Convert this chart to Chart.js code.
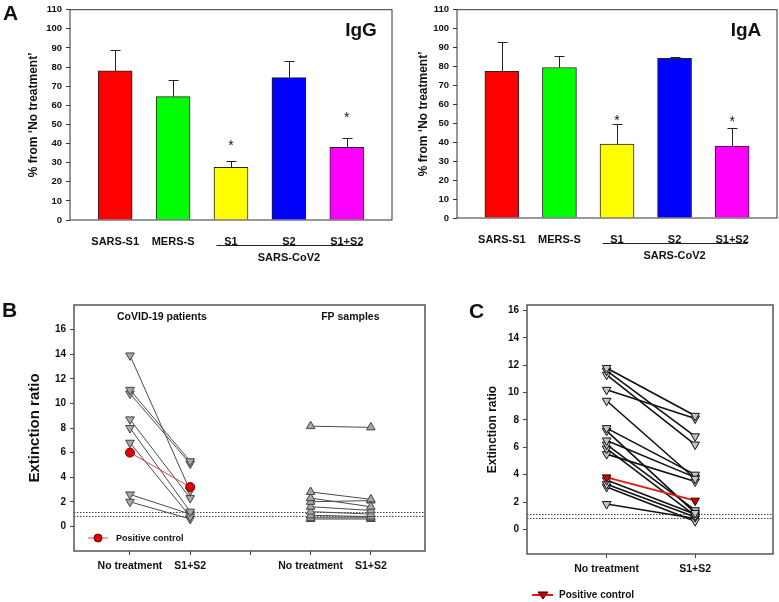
<!DOCTYPE html>
<html>
<head>
<meta charset="utf-8">
<script src="https://cdn.jsdelivr.net/npm/chart.js@4.4.1/dist/chart.umd.min.js"></script>
<style>
  body { margin: 0; background: #fff; width: 779px; height: 602px; position: relative; overflow: hidden; font-family: Arial, "Liberation Sans", sans-serif; }
  .p { position: absolute; }
  .lbl { position: absolute; font: bold 21px Arial, "Liberation Sans", sans-serif; color: #111; }
</style>
</head>
<body>
<div class="p" style="left:0;top:0"><canvas id="igg" width="395" height="275"></canvas></div>
<div class="p" style="left:395px;top:0"><canvas id="iga" width="384" height="275"></canvas></div>
<div class="p" style="left:0;top:295px"><canvas id="chartB" width="440" height="307"></canvas></div>
<div class="p" style="left:440px;top:295px"><canvas id="chartC" width="339" height="307"></canvas></div>
<div class="lbl" style="left:3px;top:1px">A</div>
<div class="lbl" style="left:2px;top:298px">B</div>
<div class="lbl" style="left:469px;top:299px">C</div>

<script>
// panel A
const antigens = ["SARS-S1", "MERS-S", "S1", "S2", "S1+S2"];
const barColors = ["#ff0000", "#00ff00", "#ffff00", "#0000ff", "#ff00ff"];
const iggMean = [78, 64.5, 27.5, 74.5, 38];
const iggErr = [89, 73, 31, 83, 43];
const iggStars = [null, null, 40, null, 55];
const igaMean = [77.5, 79.5, 39, 84.3, 38];
const igaErr = [93, 85.5, 49.5, 84.8, 47.5];
const igaStars = [null, null, 52.5, null, 52];
const pctTicks = [0, 10, 20, 30, 40, 50, 60, 70, 80, 90, 100, 110];

// panel B
const treatLabelsB = ["No treatment", "S1+S2", "", "No treatment", "S1+S2"];
const covidNoTreat = [13.9, 11.1, 10.8, 8.7, 8.0, 6.8, 2.6, 2.0];
const covidS1S2 = [2.9, 5.3, 5.1, 2.3, 1.2, 0.8, 1.0, 0.6];
const posCtrlB = [6.0, 3.2];
const fpNoTreat = [8.15, 2.8, 2.3, 2.0, 1.6, 1.2, 0.9, 0.7, 0.6];
const fpS1S2 = [8.05, 2.2, 1.6, 2.1, 1.3, 1.0, 0.8, 0.7, 0.6];
const cutoffsB = [1.2, 0.85];

// panel C
const treatLabelsC = ["No treatment", "S1+S2"];
const cNoTreat = [11.8, 11.6, 11.3, 10.2, 9.4, 7.4, 7.2, 6.5, 6.2, 5.9, 5.5, 3.6, 3.3, 3.1, 1.85];
const cS1S2 = [8.3, 6.8, 6.2, 8.1, 3.7, 4.0, 1.2, 3.8, 1.4, 1.0, 3.5, 1.1, 0.9, 0.6, 0.8];
const posCtrlC = [3.8, 2.1];
const cutoffsC = [1.1, 0.85];
const ratioTicks = [0, 2, 4, 6, 8, 10, 12, 14, 16];

const FONT = 'Arial, "Liberation Sans", sans-serif';
Chart.defaults.font.family = FONT;
Chart.defaults.color = "#111";

function frame(chart, color, width) {
  const a = chart.chartArea, ctx = chart.ctx;
  ctx.save();
  ctx.strokeStyle = color;
  ctx.lineWidth = width;
  ctx.strokeRect(a.left, a.top, a.right - a.left, a.bottom - a.top);
  ctx.restore();
}

function barChart(id, mean, err, stars, title, axisW, axisH, pad, titlePad) {
  const extras = {
    id: "extras",
    afterDatasetsDraw(chart) {
      const ctx = chart.ctx, xs = chart.scales.x, ys = chart.scales.y;
      ctx.save();
      ctx.strokeStyle = "#222";
      ctx.lineWidth = 1;
      mean.forEach((m, i) => {
        const x = Math.round(xs.getPixelForValue(i)) + 0.5;
        const y0 = ys.getPixelForValue(m), y1 = Math.round(ys.getPixelForValue(err[i])) + 0.5;
        ctx.beginPath();
        ctx.moveTo(x, y0); ctx.lineTo(x, y1);
        ctx.moveTo(x - 5, y1); ctx.lineTo(x + 5, y1);
        ctx.stroke();
      });
      ctx.fillStyle = "#111";
      ctx.font = "14px " + FONT;
      ctx.textAlign = "center";
      ctx.textBaseline = "middle";
      stars.forEach((s, i) => {
        if (s !== null) ctx.fillText("*", xs.getPixelForValue(i), ys.getPixelForValue(s) + 3);
      });
      // SARS-CoV2 bracket
      const yb = chart.chartArea.bottom + 25.5;
      ctx.beginPath();
      ctx.moveTo(xs.getPixelForValue(1.75), yb);
      ctx.lineTo(xs.getPixelForValue(4.27), yb);
      ctx.stroke();
      ctx.font = "bold 11px " + FONT;
      ctx.fillText("SARS-CoV2", xs.getPixelForValue(3), yb + 12);
      ctx.font = "bold 19px " + FONT;
      ctx.fillText(title, chart.chartArea.right - 31, chart.chartArea.top + 21);
      ctx.restore();
      frame(chart, "#333", 1);
    }
  };
  return new Chart(document.getElementById(id), {
    type: "bar",
    data: {
      datasets: [{
        data: mean.map((v, i) => ({ x: i, y: v })),
        backgroundColor: barColors,
        borderColor: "#222",
        borderWidth: 1,
        barThickness: 34
      }]
    },
    options: {
      responsive: false,
      animation: false,
      layout: { padding: pad },
      plugins: { legend: { display: false }, tooltip: { enabled: false } },
      scales: {
        x: {
          type: "linear",
          offset: false,
          min: -0.78,
          max: 4.78,
          afterBuildTicks: s => { s.ticks = antigens.map((_, i) => ({ value: i })); },
          afterFit: s => { s.height = axisH; },
          grid: { display: false, offset: false },
          border: { display: false },
          ticks: {
            callback: v => antigens[v],
            font: { weight: "bold", size: 11 },
            padding: 7,
            maxRotation: 0
          }
        },
        y: {
          min: 0,
          max: 110,
          afterBuildTicks: s => { s.ticks = pctTicks.map(v => ({ value: v })); },
          afterFit: s => { s.width = axisW; },
          grid: { drawOnChartArea: false, drawTicks: true, tickLength: 4, color: "#333" },
          border: { display: false },
          ticks: { font: { weight: "bold", size: 9.5 }, padding: 4 },
          title: {
            display: true,
            text: "% from \u2018No treatment\u2019",
            font: { weight: "bold", size: 12 },
            padding: { top: titlePad, bottom: 0 }
          }
        }
      }
    },
    plugins: [extras]
  });
}

barChart("igg", iggMean, iggErr, iggStars, "IgG", 70, 55, { top: 9, right: 3, left: 0, bottom: 0 }, 26);
barChart("iga", igaMean, igaErr, igaStars, "IgA", 62, 57, { top: 9, right: 2, left: 0, bottom: 0 }, 21);

function pair(a, b, x0, line, fill, border, style, rotation, radius, lw) {
  return {
    data: [{ x: x0, y: a }, { x: x0 + 1, y: b }],
    borderColor: line,
    borderWidth: lw,
    pointStyle: style,
    pointRotation: rotation,
    pointRadius: radius,
    pointBackgroundColor: fill,
    pointBorderColor: border,
    pointBorderWidth: 1
  };
}

function cutoffPlugin(cuts) {
  return {
    id: "cutoffs",
    beforeDatasetsDraw(chart) {
      const ctx = chart.ctx, a = chart.chartArea, ys = chart.scales.y;
      ctx.save();
      ctx.strokeStyle = "#444";
      ctx.lineWidth = 1;
      ctx.setLineDash([1.5, 1.5]);
      cuts.forEach(c => {
        const y = Math.round(ys.getPixelForValue(c)) + 0.5;
        ctx.beginPath(); ctx.moveTo(a.left, y); ctx.lineTo(a.right, y); ctx.stroke();
      });
      ctx.restore();
    }
  };
}

function lineOptions(xmin, xmax, labels, ymin, ymax, axisW, axisH, pad, titleSize, titlePad) {
  return {
    responsive: false,
    animation: false,
    layout: { padding: pad },
    plugins: { legend: { display: false }, tooltip: { enabled: false } },
    scales: {
      x: {
        type: "linear",
        min: xmin,
        max: xmax,
        afterBuildTicks: s => { s.ticks = labels.map((_, i) => ({ value: i })); },
        afterFit: s => { s.height = axisH; },
        grid: { drawOnChartArea: false, drawTicks: true, tickLength: 4, color: "#444" },
        border: { display: false },
        ticks: { callback: v => labels[v], font: { weight: "bold", size: 10.5 }, padding: 5, maxRotation: 0 }
      },
      y: {
        min: ymin,
        max: ymax,
        afterBuildTicks: s => { s.ticks = ratioTicks.map(v => ({ value: v })); },
        afterFit: s => { s.width = axisW; },
        grid: { drawOnChartArea: false, drawTicks: true, tickLength: 4, color: "#444" },
        border: { display: false },
        ticks: { font: { weight: "bold", size: 10 }, padding: 4 },
        title: {
          display: true,
          text: "Extinction ratio",
          font: { weight: "bold", size: titleSize },
          padding: { top: titlePad, bottom: 0 }
        }
      }
    }
  };
}

// panel B
const setsB = [pair(posCtrlB[0], posCtrlB[1], 0, "#e04848", "#e00000", "#700", "circle", 0, 4.5, 1)];
covidNoTreat.forEach((v, i) => setsB.push(pair(v, covidS1S2[i], 0, "#4a4a4a", "#a8a8a8", "#444", "triangle", 180, 5, 1)));
fpNoTreat.forEach((v, i) => setsB.push(pair(v, fpS1S2[i], 3, "#4a4a4a", "#a8a8a8", "#444", "triangle", 0, 5, 1)));

new Chart(document.getElementById("chartB"), {
  type: "line",
  data: { datasets: setsB },
  options: lineOptions(-0.93, 4.9, treatLabelsB, -2, 18, 74, 51, { top: 8, right: 15, left: 0, bottom: 0 }, 15, 26),
  plugins: [cutoffPlugin(cutoffsB), {
    id: "textB",
    afterDatasetsDraw(chart) {
      const ctx = chart.ctx, xs = chart.scales.x, a = chart.chartArea;
      ctx.save();
      ctx.fillStyle = "#111";
      ctx.font = "bold 10.5px " + FONT;
      ctx.textAlign = "center";
      ctx.textBaseline = "middle";
      ctx.fillText("CoVID-19 patients", xs.getPixelForValue(0.53), a.top + 12);
      ctx.fillText("FP samples", xs.getPixelForValue(3.66), a.top + 12);
      // legend
      const ly = a.bottom - 13;
      ctx.strokeStyle = "#e04848";
      ctx.lineWidth = 1;
      ctx.beginPath(); ctx.moveTo(a.left + 14, ly); ctx.lineTo(a.left + 34, ly); ctx.stroke();
      ctx.fillStyle = "#e00000";
      ctx.strokeStyle = "#700";
      ctx.beginPath(); ctx.arc(a.left + 24, ly, 4, 0, Math.PI * 2); ctx.fill(); ctx.stroke();
      ctx.fillStyle = "#111";
      ctx.textAlign = "left";
      ctx.font = "bold 9px " + FONT;
      ctx.fillText("Positive control", a.left + 42, ly + 1);
      ctx.restore();
      frame(chart, "#555", 1.5);
    }
  }]
});

// panel C
const setsC = [pair(posCtrlC[0], posCtrlC[1], 0, "#e01818", "#c80000", "#300", "triangle", 180, 5, 2)];
cNoTreat.forEach((v, i) => setsC.push(pair(v, cS1S2[i], 0, "#111", "#c4c4c4", "#111", "triangle", 180, 5, 1.6)));

new Chart(document.getElementById("chartC"), {
  type: "line",
  data: { datasets: setsC },
  options: lineOptions(-0.9, 1.88, treatLabelsC, -1.8, 16.4, 87, 48, { top: 9, right: 5, left: 0, bottom: 0 }, 12, 45),
  plugins: [cutoffPlugin(cutoffsC), {
    id: "textC",
    afterDatasetsDraw(chart) {
      const ctx = chart.ctx, a = chart.chartArea;
      ctx.save();
      const ly = 300;
      ctx.strokeStyle = "#e01818";
      ctx.lineWidth = 2;
      ctx.beginPath(); ctx.moveTo(92, ly); ctx.lineTo(113, ly); ctx.stroke();
      ctx.fillStyle = "#c80000";
      ctx.strokeStyle = "#300";
      ctx.lineWidth = 1;
      ctx.beginPath(); ctx.moveTo(98, ly - 3); ctx.lineTo(108, ly - 3); ctx.lineTo(103, ly + 4); ctx.closePath(); ctx.fill(); ctx.stroke();
      ctx.fillStyle = "#111";
      ctx.font = "bold 10px " + FONT;
      ctx.textAlign = "left";
      ctx.textBaseline = "middle";
      ctx.fillText("Positive control", 119, ly);
      ctx.restore();
      frame(chart, "#555", 1.5);
    }
  }]
});
</script>
</body>
</html>
